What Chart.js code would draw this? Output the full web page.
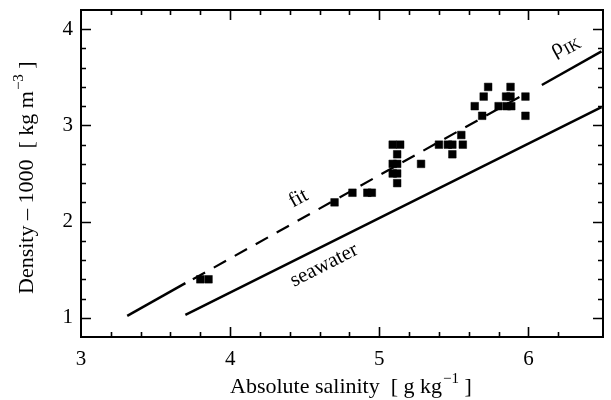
<!DOCTYPE html>
<html>
<head>
<meta charset="utf-8">
<script src="https://cdn.jsdelivr.net/npm/chart.js@4.4.1/dist/chart.umd.min.js"></script>
<style>
  html, body { margin: 0; padding: 0; background: #fff; }
  #wrap { width: 611px; height: 400px; }
</style>
</head>
<body>
<div id="wrap"><canvas id="chart" width="611" height="400"></canvas></div>
<script>
// measured samples (absolute salinity, density - 1000)
const saltX = [3.80, 3.855, 4.70, 4.82, 4.92, 4.95, 5.09, 5.14, 5.12, 5.09, 5.12, 5.09, 5.12, 5.12,
               5.28, 5.40, 5.46, 5.49, 5.49, 5.55, 5.56, 5.64, 5.70, 5.73, 5.69, 5.80, 5.855, 5.885,
               5.85, 5.88, 5.88, 5.98, 5.98];
const densY = [1.4, 1.4, 2.2, 2.3, 2.3, 2.3, 2.8, 2.8, 2.7, 2.6, 2.6, 2.5, 2.5, 2.4,
               2.6, 2.8, 2.8, 2.8, 2.7, 2.9, 2.8, 3.2, 3.3, 3.4, 3.1, 3.2, 3.2, 3.2,
               3.3, 3.3, 3.4, 3.3, 3.1];

// rho_IK line, drawn solid outside the data range
const rhoLeftX = [3.31, 3.70];
const rhoLeftY = [1.02, 1.36];
const rhoRightX = [6.09, 6.49];
const rhoRightY = [3.42, 3.77];

// fit, dashed over the data range
const fitX = [3.75, 5.98];
const fitY = [1.40, 3.33];

// seawater
const seaX = [3.70, 6.49];
const seaY = [1.03, 3.19];

const xMin = 3, xMax = 6.5;
const yMin = 0.8, yMax = 4.2;

const FONT = '"Liberation Serif", "Times New Roman", serif';

function pts(xs, ys) {
    return xs.map(function(x, i) { return { x: x, y: ys[i] }; });
}

function isInt(v) {
    return Math.abs(v - Math.round(v)) < 1e-6;
}

function onStep(v) {
    return Math.abs(v / 0.2 - Math.round(v / 0.2)) < 1e-6;
}

const framePlugin = {
    id: 'frame',
    afterDraw: function(chart) {
        const ctx = chart.ctx;
        const a = chart.chartArea;
        const xs = chart.scales.x;
        const ys = chart.scales.y;

        ctx.save();
        ctx.strokeStyle = '#000';
        ctx.lineWidth = 2;
        ctx.strokeRect(a.left, a.top, a.right - a.left, a.bottom - a.top);

        ctx.lineWidth = 1.6;
        ctx.beginPath();
        xs.ticks.forEach(function(t) {
            if (!onStep(t.value) || t.value <= xMin || t.value >= xMax) return;
            const px = Math.round(xs.getPixelForValue(t.value)) + 0.5;
            const len = isInt(t.value) ? 10 : 5;
            ctx.moveTo(px, a.bottom); ctx.lineTo(px, a.bottom - len);
            ctx.moveTo(px, a.top); ctx.lineTo(px, a.top + len);
        });
        ys.ticks.forEach(function(t) {
            if (!onStep(t.value) || t.value <= yMin + 1e-6 || t.value >= yMax - 1e-6) return;
            const py = Math.round(ys.getPixelForValue(t.value)) + 0.5;
            const len = isInt(t.value) ? 10 : 5;
            ctx.moveTo(a.left, py); ctx.lineTo(a.left + len, py);
            ctx.moveTo(a.right, py); ctx.lineTo(a.right - len, py);
        });
        ctx.stroke();

        ctx.fillStyle = '#000';
        ctx.textBaseline = 'alphabetic';

        // x axis title
        ctx.font = '22px ' + FONT;
        ctx.textAlign = 'left';
        let x0 = 230;
        const xt = 'Absolute salinity  [ g kg';
        ctx.fillText(xt, x0, 393);
        x0 += ctx.measureText(xt).width;
        ctx.font = '15px ' + FONT;
        ctx.fillText('\u22121', x0 + 1, 383);
        x0 += ctx.measureText('\u22121').width + 1;
        ctx.font = '22px ' + FONT;
        ctx.fillText(' ]', x0, 393);

        // y axis title
        ctx.save();
        ctx.translate(33, 294);
        ctx.rotate(-Math.PI / 2);
        ctx.font = '22px ' + FONT;
        let y0 = 0;
        const yt = 'Density \u2013 1000  [ kg m';
        ctx.fillText(yt, y0, 0);
        y0 += ctx.measureText(yt).width;
        ctx.font = '15px ' + FONT;
        ctx.fillText('\u22123', y0 + 1, -10);
        y0 += ctx.measureText('\u22123').width + 1;
        ctx.font = '22px ' + FONT;
        ctx.fillText(' ]', y0, 0);
        ctx.restore();

        // line labels
        function label(text, vx, vy, deg, size) {
            ctx.save();
            ctx.translate(xs.getPixelForValue(vx), ys.getPixelForValue(vy));
            ctx.rotate(deg * Math.PI / 180);
            ctx.font = size + 'px ' + FONT;
            ctx.textAlign = 'center';
            ctx.textBaseline = 'middle';
            ctx.fillText(text, 0, 0);
            ctx.restore();
        }
        label('fit', 4.458, 2.24, -29, 21);
        label('seawater', 4.63, 1.545, -27, 21);

        ctx.save();
        ctx.translate(xs.getPixelForValue(6.267), ys.getPixelForValue(3.847));
        ctx.rotate(-29 * Math.PI / 180);
        ctx.textBaseline = 'alphabetic';
        ctx.textAlign = 'left';
        ctx.font = '23px ' + FONT;
        ctx.fillText('\u03c1', -18, 4);
        ctx.font = '16px ' + FONT;
        ctx.fillText('IK', -6, 9);
        ctx.restore();

        ctx.restore();
    }
};

const lineStyle = {
    showLine: true,
    pointRadius: 0,
    borderColor: '#000',
    borderWidth: 2.5,
    fill: false
};

new Chart(document.getElementById('chart'), {
    type: 'scatter',
    data: {
        datasets: [
            Object.assign({ label: 'rho_IK', data: pts(rhoLeftX, rhoLeftY) }, lineStyle),
            Object.assign({ label: 'rho_IK', data: pts(rhoRightX, rhoRightY) }, lineStyle),
            Object.assign({ label: 'fit', data: pts(fitX, fitY), borderDash: [14, 10] }, lineStyle, { borderWidth: 2.2 }),
            Object.assign({ label: 'seawater', data: pts(seaX, seaY) }, lineStyle),
            {
                label: 'samples',
                data: pts(saltX, densY),
                pointStyle: 'rect',
                pointRadius: 5.4,
                backgroundColor: '#000',
                borderColor: '#000',
                borderWidth: 0.5,
                showLine: false
            }
        ]
    },
    options: {
        responsive: false,
        animation: false,
        layout: { padding: { top: 10, right: 8, left: 0, bottom: 0 } },
        plugins: {
            legend: { display: false },
            tooltip: { enabled: false }
        },
        scales: {
            x: {
                type: 'linear',
                min: xMin,
                max: xMax,
                afterFit: function(scale) {
                    scale.height = 63;
                    scale.paddingLeft = 0;
                    scale.paddingRight = 0;
                },
                grid: { display: false, drawTicks: false },
                border: { display: false },
                ticks: {
                    stepSize: 0.2,
                    autoSkip: false,
                    maxRotation: 0,
                    padding: 10,
                    color: '#000',
                    font: { family: FONT, size: 21 },
                    callback: function(v) { return isInt(v) ? String(Math.round(v)) : ''; }
                }
            },
            y: {
                type: 'linear',
                min: yMin,
                max: yMax,
                afterFit: function(scale) {
                    scale.width = 81;
                    scale.paddingTop = 0;
                    scale.paddingBottom = 0;
                },
                grid: { display: false, drawTicks: false },
                border: { display: false },
                ticks: {
                    stepSize: 0.2,
                    autoSkip: false,
                    padding: 8,
                    color: '#000',
                    font: { family: FONT, size: 21 },
                    callback: function(v) { return isInt(v) ? String(Math.round(v)) : ''; }
                }
            }
        }
    },
    plugins: [framePlugin]
});
</script>
</body>
</html>
